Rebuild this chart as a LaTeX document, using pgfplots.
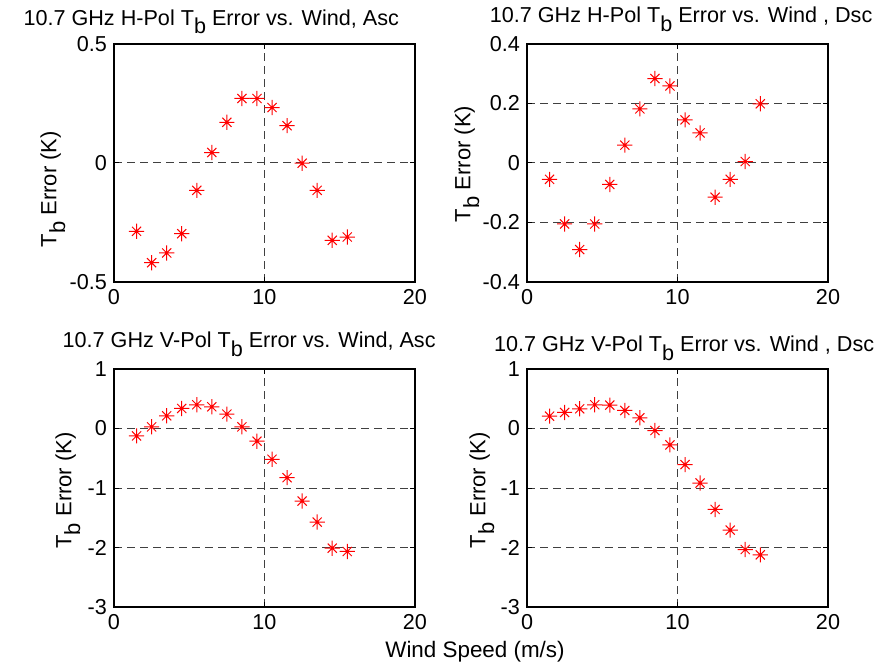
\documentclass[border=0pt]{standalone}
\usepackage{pgfplots}
\pgfplotsset{compat=1.18}
\usepackage{fontspec}
\setmainfont{Liberation Sans}
\newcommand\Tb{T\raisebox{-0.4em}{b}}
\pgfdeclareplotmark{mstar}{%
 \pgfpathmoveto{\pgfqpoint{-\pgfplotmarksize}{0pt}}\pgfpathlineto{\pgfqpoint{\pgfplotmarksize}{0pt}}%
 \pgfpathmoveto{\pgfqpoint{0pt}{-\pgfplotmarksize}}\pgfpathlineto{\pgfqpoint{0pt}{\pgfplotmarksize}}%
 \pgfpathmoveto{\pgfqpoint{-0.6\pgfplotmarksize}{-0.6\pgfplotmarksize}}\pgfpathlineto{\pgfqpoint{0.6\pgfplotmarksize}{0.6\pgfplotmarksize}}%
 \pgfpathmoveto{\pgfqpoint{-0.6\pgfplotmarksize}{0.6\pgfplotmarksize}}\pgfpathlineto{\pgfqpoint{0.6\pgfplotmarksize}{-0.6\pgfplotmarksize}}%
 \pgfusepathqstroke}
\pgfplotsset{
 myax/.style={scale only axis, width=150.5pt, height=119pt, anchor=south west,
  xmin=0, xmax=20, xtick={0,10,20}, xticklabels={0,10,20},
  grid=major, major grid style={dash pattern=on 4pt off 2.5pt, black!75, line width=0.5pt},
  axis line style={line width=0.7pt}, tick align=inside, major tick length=2.5pt,
  tick style={black, line width=0.5pt},
  font=\fontsize{10.5}{12}\selectfont,
  tick label style={font=\fontsize{10.8}{12}\selectfont},
  ylabel={\Tb{} Error (K)},
  title style={anchor=base, font=\fontsize{10.8}{12}\selectfont},
  label style={font=\fontsize{11}{12}\selectfont},
 },
 pts/.style={only marks, mark=mstar, mark size=3.8pt, red, mark options={line width=0.5pt}},
}
\begin{document}
\begin{tikzpicture}
\useasboundingbox (0,0) rectangle (446.5pt,334pt);
% Panel 1
\begin{axis}[myax, at={(57pt,193pt)}, ymin=-0.5, ymax=0.5, ytick={-0.5,0,0.5}, yticklabels={-0.5,0,0.5},
 title={10.7 GHz H-Pol \Tb{} Error vs. Wind, Asc},
 title style={at={(rel axis cs:0.323,1)}, yshift=3.4pt},
 ylabel style={at={(rel axis cs:-0.203,0.39)}, anchor=center}]
\addplot[pts] coordinates {(1.5,-0.287)(2.5,-0.419)(3.5,-0.378)(4.5,-0.297)(5.5,-0.115)(6.5,0.044)(7.5,0.171)(8.5,0.271)(9.5,0.271)(10.5,0.233)(11.5,0.157)(12.5,-0.001)(13.5,-0.115)(14.5,-0.325)(15.5,-0.311)};
\end{axis}
% Panel 2
\begin{axis}[myax, at={(263.5pt,193pt)}, ymin=-0.4, ymax=0.4, ytick={-0.4,-0.2,0,0.2,0.4}, yticklabels={-0.4,-0.2,0,0.2,0.4},
 title={10.7 GHz H-Pol \Tb{} Error vs. Wind , Dsc},
 title style={at={(rel axis cs:0.512,1)}, yshift=4.7pt},
 ylabel style={at={(rel axis cs:-0.2,0.496)}, anchor=center}]
\addplot[pts] coordinates {(1.5,-0.055)(2.5,-0.205)(3.5,-0.291)(4.5,-0.205)(5.5,-0.072)(6.5,0.060)(7.5,0.182)(8.5,0.284)(9.5,0.259)(10.5,0.145)(11.5,0.101)(12.5,-0.115)(13.5,-0.055)(14.5,0.005)(15.5,0.199)};
\end{axis}
% Panel 3
\begin{axis}[myax, at={(57pt,30.5pt)}, ymin=-3, ymax=1, ytick={-3,-2,-1,0,1}, yticklabels={-3,-2,-1,0,1},
 title={10.7 GHz V-Pol \Tb{} Error vs. Wind, Asc},
 title style={at={(rel axis cs:0.449,1)}, yshift=4.8pt},
 ylabel style={at={(rel axis cs:-0.153,0.49)}, anchor=center}]
\addplot[pts] coordinates {(1.5,-0.124)(2.5,0.028)(3.5,0.213)(4.5,0.337)(5.5,0.399)(6.5,0.365)(7.5,0.242)(8.5,0.028)(9.5,-0.213)(10.5,-0.517)(11.5,-0.826)(12.5,-1.219)(13.5,-1.573)(14.5,-2.011)(15.5,-2.067)};
\end{axis}
% Panel 4
\begin{axis}[myax, at={(263.5pt,30.5pt)}, ymin=-3, ymax=1, ytick={-3,-2,-1,0,1}, yticklabels={-3,-2,-1,0,1},
 title={10.7 GHz V-Pol \Tb{} Error vs. Wind , Dsc},
 title style={at={(rel axis cs:0.522,1)}, yshift=2.8pt},
 ylabel style={at={(rel axis cs:-0.15,0.49)}, anchor=center}]
\addplot[pts] coordinates {(1.5,0.208)(2.5,0.270)(3.5,0.331)(4.5,0.399)(5.5,0.393)(6.5,0.303)(7.5,0.180)(8.5,-0.034)(9.5,-0.275)(10.5,-0.607)(11.5,-0.916)(12.5,-1.360)(13.5,-1.708)(14.5,-2.034)(15.5,-2.124)};
\end{axis}
\node[anchor=base, font=\fontsize{11.2}{12}\selectfont] at (237.5pt,5pt) {Wind Speed (m/s)};
\end{tikzpicture}
\end{document}
